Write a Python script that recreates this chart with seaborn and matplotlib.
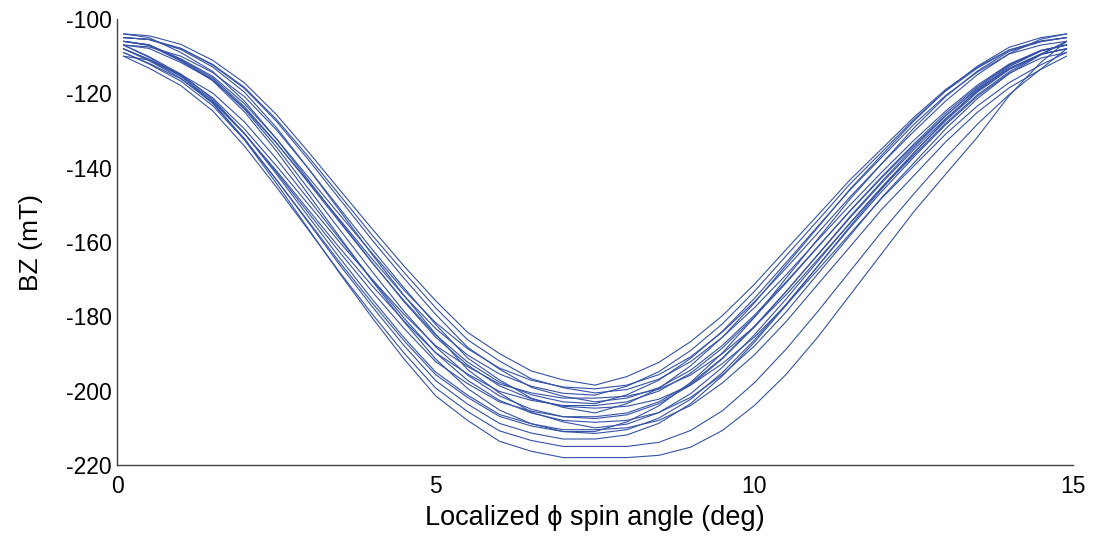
import matplotlib
matplotlib.use("Agg")
import matplotlib.pyplot as plt
import seaborn as sns
import pandas as pd

# ---- data ----
angle_deg = [0.1, 0.5, 1, 1.5, 2, 2.5, 3, 3.5, 4, 4.5, 5, 5.5, 6, 6.5, 7, 7.5,
             8, 8.5, 9, 9.5, 10, 10.5, 11, 11.5, 12, 12.5, 13, 13.5, 14, 14.5, 14.9]

curve_01 = [-104, -104.5, -106.8, -111.1, -117.2, -125.7, -135.7, -146.1, -156.4, -166.4, -175.8, -184.3, -190, -194.7, -197.1, -198.5,
            -196.2, -192.4, -186.8, -179.8, -171.4, -162, -152.7, -143.3, -134.9, -126.5, -119, -112.9, -108.3, -105.9, -105]
curve_02 = [-106, -106.9, -110.7, -115.4, -122.8, -132.2, -142.5, -152.8, -163, -172.9, -181.7, -188.7, -193.9, -197.2, -199, -199.5,
            -198.5, -195.7, -190.9, -184.2, -176.1, -167, -157.5, -147.9, -138.9, -130.3, -122.1, -115, -109.3, -105.4, -104]
curve_03 = [-105, -105.5, -107.9, -112.2, -118.4, -127, -137, -147.5, -158.1, -168.1, -177.7, -186.3, -192, -196.8, -199.2, -200.6,
            -199.7, -196.9, -192.2, -185.6, -177.7, -168.8, -159.4, -150.1, -141.2, -132.7, -124.8, -117.8, -112.1, -108.4, -107]
curve_04 = [-107, -107.9, -111.7, -116.4, -124, -133.4, -143.7, -154.1, -164.5, -174.4, -183.3, -190.4, -195.5, -198.8, -200.7, -201.2,
            -198.8, -194.9, -189.2, -182, -173.3, -163.7, -154.1, -144.4, -135.8, -127.1, -119.4, -113.2, -108.4, -106, -105]
curve_05 = [-108, -110.8, -115.1, -121.2, -129.6, -139.5, -149.8, -160.2, -170, -179.4, -187.9, -193.5, -198.2, -200.6, -202, -202,
            -201.5, -199.6, -195.8, -190, -182.8, -174.2, -164.6, -155, -145.4, -136.7, -128.1, -120.4, -114.2, -109.4, -106]
curve_06 = [-105, -105.5, -107.9, -112.4, -118.7, -127.5, -137.8, -148.6, -159.4, -169.7, -179.5, -188.3, -194.2, -199.1, -201.5, -203,
            -202, -199.2, -194.5, -187.8, -179.7, -170.7, -161.2, -151.7, -142.7, -134.1, -126, -118.9, -113.2, -109.4, -108]
curve_07 = [-106, -107, -110.9, -115.8, -123.6, -133.3, -144, -154.8, -165.5, -175.7, -185, -192.3, -197.7, -201.1, -203, -203.5,
            -201.1, -197.2, -191.3, -184, -175.2, -165.5, -155.7, -146, -137.2, -128.4, -120.6, -114.3, -109.4, -107, -106]
curve_08 = [-109, -111.9, -116.1, -122.3, -130.9, -140.8, -151.3, -161.7, -171.7, -181.2, -189.8, -195.5, -200.2, -202.6, -204, -204,
            -203, -200.1, -195.3, -188.5, -180.2, -171, -161.3, -151.6, -142.4, -133.7, -125.4, -118.2, -112.3, -108.5, -107]
curve_09 = [-104, -105, -109, -114.1, -122.1, -132.2, -143.3, -154.4, -165.4, -176, -185.6, -193.1, -198.7, -202.2, -204.2, -204.7,
            -204.2, -202.3, -198.5, -192.7, -185.6, -176.9, -167.4, -157.8, -148.2, -139.6, -131, -123.4, -117.1, -112.3, -109]
curve_10 = [-107, -107.5, -110, -114.4, -120.9, -129.8, -140.2, -151.1, -161.9, -172.3, -182.2, -191.2, -197.1, -202, -204.5, -206,
            -203.5, -199.4, -193.3, -185.6, -176.4, -166.2, -156, -145.8, -136.6, -127.5, -119.3, -112.7, -107.6, -105, -104]
curve_11 = [-108, -111, -115.4, -121.9, -130.8, -141.2, -152.1, -162.9, -173.3, -183.2, -192.2, -198.1, -203, -205.5, -207, -207,
            -206, -203, -198.1, -191.2, -182.7, -173.3, -163.4, -153.5, -144.1, -135.2, -126.8, -119.4, -113.4, -109.5, -108]
curve_12 = [-106, -107, -111.1, -116.2, -124.3, -134.4, -145.6, -156.8, -167.9, -178.6, -188.2, -195.8, -201.4, -205, -207, -207.5,
            -206.5, -203.5, -198.5, -191.4, -182.9, -173.3, -163.3, -153.2, -143.7, -134.6, -126.1, -118.6, -112.5, -108.5, -107]
curve_13 = [-110, -111, -114.9, -119.9, -127.7, -137.6, -148.4, -159.3, -170.1, -180.4, -189.8, -197.2, -202.6, -206, -208, -208.5,
            -208, -205.9, -201.8, -195.7, -188, -178.8, -168.5, -158.3, -148, -138.8, -129.6, -121.4, -114.7, -109.6, -106]
curve_14 = [-105, -105.5, -108.2, -112.9, -119.7, -129.2, -140.2, -151.7, -163.3, -174.3, -184.8, -194.3, -200.6, -205.8, -208.4, -210,
            -209, -205.9, -200.8, -193.7, -185, -175.3, -165.1, -154.9, -145.2, -136, -127.4, -119.7, -113.6, -109.5, -108]
curve_15 = [-107, -110.1, -114.8, -121.5, -130.8, -141.7, -153.1, -164.4, -175.3, -185.7, -195, -201.2, -206.4, -208.9, -210.5, -210.5,
            -210, -208, -204, -197.9, -190.4, -181.4, -171.3, -161.3, -151.2, -142.2, -133.1, -125.1, -118.5, -113.5, -110]
curve_16 = [-109, -112.1, -116.7, -123.3, -132.5, -143.2, -154.4, -165.6, -176.3, -186.5, -195.7, -201.8, -206.9, -209.5, -211, -211,
            -208.4, -204.1, -197.8, -189.8, -180.3, -169.7, -159.1, -148.5, -138.9, -129.4, -120.9, -114, -108.7, -106.1, -105]
curve_17 = [-106, -107.1, -111.3, -116.6, -125, -135.5, -147.1, -158.8, -170.4, -181.4, -191.5, -199.4, -205.2, -208.9, -211, -211.5,
            -210.5, -207.4, -202.3, -195.1, -186.4, -176.7, -166.4, -156.2, -146.4, -137.2, -128.5, -120.8, -114.6, -110.5, -109]
curve_18 = [-108, -111.2, -115.9, -122.7, -132.2, -143.2, -154.7, -166.3, -177.3, -187.8, -197.3, -203.6, -208.8, -211.4, -213, -213,
            -211.9, -208.8, -203.5, -196, -187, -177, -166.4, -155.8, -145.7, -136.2, -127.1, -119.2, -112.8, -108.6, -107]
curve_19 = [-110, -113.2, -117.9, -124.7, -134.2, -145.2, -156.7, -168.3, -179.3, -189.8, -199.3, -205.6, -210.8, -213.4, -215, -215,
            -215, -213.9, -210.7, -205.4, -197.9, -188.8, -178.6, -167.9, -157.2, -147.1, -137.4, -128.3, -120.3, -113.4, -108]
curve_20 = [-107, -110.3, -115.3, -122.5, -132.5, -144.2, -156.4, -168.6, -180.3, -191.4, -201.4, -208, -213.6, -216.3, -218, -218,
            -218, -217.4, -215.2, -210.7, -204, -195.6, -185.5, -174.3, -163.1, -151.9, -141.8, -131.8, -120.6, -111.6, -106]

curves = [curve_01, curve_02, curve_03, curve_04, curve_05, curve_06, curve_07,
          curve_08, curve_09, curve_10, curve_11, curve_12, curve_13, curve_14,
          curve_15, curve_16, curve_17, curve_18, curve_19, curve_20]

x_ticks = [0, 5, 10, 15]
y_ticks = [-100, -120, -140, -160, -180, -200, -220]

rows = []
for i, c in enumerate(curves):
    for a, v in zip(angle_deg, c):
        rows.append({"angle": a, "bz": v, "run": i})
df = pd.DataFrame(rows)

# ---- style ----
sns.set_style("white")
plt.rcParams["font.family"] = ["Liberation Sans", "DejaVu Sans"]

fig = plt.figure(figsize=(10.98, 5.43), dpi=100)
ax = fig.add_axes([0.1066, 0.1436, 0.8706, 0.8214])

line_color = "#3552A6"
sns.lineplot(data=df, x="angle", y="bz", units="run", estimator=None,
             color=line_color, linewidth=0.8, sort=False, ax=ax, legend=False)

ax.set_xlim(0, 15)
ax.set_ylim(-220, -100)
ax.set_xticks(x_ticks)
ax.set_yticks(y_ticks)
ax.set_xticklabels([str(t) for t in x_ticks])
ax.set_yticklabels([str(t) for t in y_ticks])

for side in ["top", "right"]:
    ax.spines[side].set_visible(False)
for side in ["left", "bottom"]:
    ax.spines[side].set_color("#444444")
    ax.spines[side].set_linewidth(1.0)

ax.tick_params(axis="both", direction="in", length=7, width=1.0,
               color="#333333", labelsize=16.5, labelcolor="black")
ax.tick_params(axis="x", pad=7)
ax.tick_params(axis="y", pad=4)

ax.set_xlabel("Localized \u03d5 spin angle (deg)", fontsize=19.5, labelpad=5, color="black")
ax.set_ylabel("BZ (mT)", fontsize=19, labelpad=16, color="black")

fig.savefig("out.png", dpi=100, facecolor="white")
